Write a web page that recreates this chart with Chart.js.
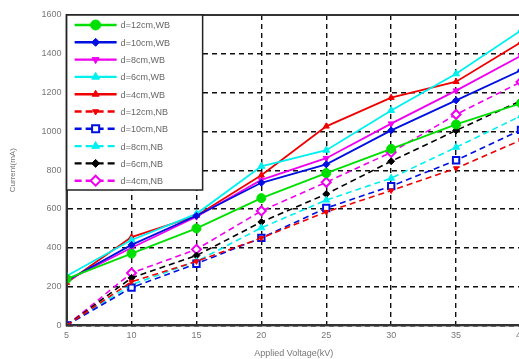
<!DOCTYPE html>
<html>
<head>
<meta charset="utf-8">
<script src="https://cdn.jsdelivr.net/npm/chart.js@4.4.1/dist/chart.umd.min.js"></script>
<style>
  html, body { margin: 0; padding: 0; background: #fff; overflow: hidden; }
  #wrap { position: absolute; left: 0; top: 0; width: 531px; height: 359px; }
</style>
</head>
<body>
<div id="wrap"><canvas id="chart"></canvas></div>
<script>
const voltages = [5, 10, 15, 20, 25, 30, 35, 40];
const yTicks = [0, 200, 400, 600, 800, 1000, 1200, 1400, 1600];

// with barrier (WB)
const d12WB = [240, 370, 500, 656, 785, 910, 1036, 1145];
const d10WB = [230, 415, 565, 735, 830, 1005, 1160, 1315];
const d8WB  = [230, 400, 560, 750, 862, 1040, 1210, 1390];
const d6WB  = [255, 440, 575, 820, 903, 1108, 1297, 1520];
const d4WB  = [220, 455, 565, 774, 1026, 1174, 1256, 1460];

// no barrier (NB)
const d12NB = [0, 225, 330, 450, 585, 695, 810, 955];
const d10NB = [0, 195, 318, 451, 605, 718, 851, 1008];
const d8NB  = [0, 210, 330, 503, 646, 759, 918, 1080];
const d6NB  = [0, 245, 360, 533, 677, 846, 1005, 1158];
const d4NB  = [0, 270, 392, 590, 738, 892, 1087, 1255];

const toXY = arr => arr.map((v, i) => ({x: voltages[i], y: v}));

function series(label, data, color, dashed, style, radius, hollow, rot) {
  return {
    label: label,
    data: toXY(data),
    borderColor: color,
    backgroundColor: hollow ? '#ffffff' : color,
    pointBorderColor: color,
    pointBackgroundColor: hollow ? '#ffffff' : color,
    borderWidth: dashed ? 1.6 : 1.8,
    borderDash: dashed ? [6, 4] : [],
    pointStyle: style,
    pointRadius: radius,
    pointRotation: rot || 0,
    pointBorderWidth: hollow ? 2 : 1,
    tension: 0
  };
}

const datasets = [
  series('d=12cm,WB', d12WB, '#00e000', false, 'circle', 4.5),
  series('d=10cm,WB', d10WB, '#0010e0', false, 'rectRot', 3.5),
  series('d=8cm,WB',  d8WB,  '#f000f0', false, 'triangle', 3.5, false, 180),
  series('d=6cm,WB',  d6WB,  '#00f0f0', false, 'triangle', 4),
  series('d=4cm,WB',  d4WB,  '#f00000', false, 'triangle', 3.5),
  series('d=12cm,NB', d12NB, '#f00000', true, 'triangle', 3, false, 180),
  series('d=10cm,NB', d10NB, '#0010e0', true, 'rect', 4.5, true),
  series('d=8cm,NB',  d8NB,  '#00f0f0', true, 'triangle', 4),
  series('d=6cm,NB',  d6NB,  '#000000', true, 'rectRot', 3.5),
  series('d=4cm,NB',  d4NB,  '#f000f0', true, 'rectRot', 4.5, true)
];

// frame + boxed legend drawn inside the plot, MATLAB style
const boxLegend = {
  id: 'boxLegend',
  afterDatasetsDraw(chart) {
    const ctx = chart.ctx;
    const a = chart.chartArea;
    ctx.save();
    ctx.strokeStyle = '#333';
    ctx.lineWidth = 2;
    ctx.strokeRect(a.left, a.top, a.right - a.left, a.bottom - a.top);

    const bx = a.left, by = a.top, bw = 136, bh = 175;
    ctx.fillStyle = '#fff';
    ctx.fillRect(bx, by, bw, bh);
    ctx.strokeStyle = '#222';
    ctx.lineWidth = 1.5;
    ctx.strokeRect(bx, by, bw, bh);

    ctx.font = '9px "Liberation Sans", Arial, sans-serif';
    ctx.textBaseline = 'middle';
    chart.data.datasets.forEach((ds, i) => {
      const y = by + 10 + i * 17.3;
      ctx.strokeStyle = ds.borderColor;
      ctx.lineWidth = 2.4;
      ctx.setLineDash(ds.borderDash.length ? [7, 4] : []);
      ctx.beginPath();
      ctx.moveTo(bx + 8, y);
      ctx.lineTo(bx + 50, y);
      ctx.stroke();
      ctx.setLineDash([]);
      ctx.fillStyle = ds.pointBackgroundColor;
      ctx.strokeStyle = ds.pointBorderColor;
      ctx.lineWidth = ds.pointBorderWidth;
      Chart.helpers.drawPoint(ctx, {
        pointStyle: ds.pointStyle,
        rotation: ds.pointRotation,
        radius: ds.pointRadius + 0.5,
        borderWidth: ds.pointBorderWidth
      }, bx + 29, y);
      ctx.fillStyle = '#666';
      ctx.fillText(ds.label, bx + 54, y + 1);
    });
    ctx.restore();
  }
};

const gridStyle = {
  color: '#111',
  lineWidth: 1.4,
  drawTicks: false
};

const tickFont = { family: '"Liberation Sans", Arial, sans-serif', size: 9 };

new Chart(document.getElementById('chart'), {
  type: 'line',
  data: { datasets: datasets },
  options: {
    responsive: true,
    maintainAspectRatio: false,
    animation: false,
    layout: { padding: { left: 8, top: 15, right: 0, bottom: 0 } },
    plugins: { legend: { display: false }, tooltip: { enabled: false } },
    scales: {
      x: {
        type: 'linear',
        min: 5, max: 40,
        grid: gridStyle,
        border: { display: true, color: '#333', width: 2, dash: [5, 4] },
        ticks: { stepSize: 5, padding: 5, color: '#777', font: tickFont },
        title: {
          display: true, text: 'Applied Voltage(kV)', color: '#777', padding: { top: 2, bottom: 0 },
          font: tickFont
        }
      },
      y: {
        min: 0, max: 1600,
        afterBuildTicks: axis => { axis.ticks = yTicks.map(v => ({ value: v })); },
        grid: gridStyle,
        border: { display: true, color: '#333', width: 2, dash: [5, 4] },
        ticks: { padding: 5, color: '#777', font: tickFont, callback: v => String(v) },
        title: {
          display: true, text: 'Current(mA)', color: '#777', padding: { top: 0, bottom: 19 },
          font: { family: '"Liberation Sans", Arial, sans-serif', size: 8 }
        }
      }
    }
  },
  plugins: [boxLegend]
});
</script>
</body>
</html>
